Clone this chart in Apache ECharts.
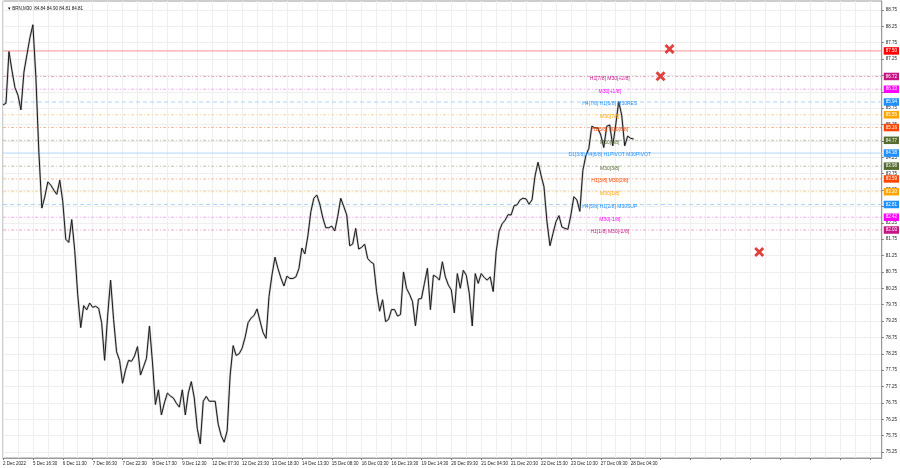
<!DOCTYPE html>
<html>
<head>
<meta charset="utf-8">
<script src="https://cdn.jsdelivr.net/npm/echarts@6/dist/echarts.min.js"></script>
<style>
html,body{margin:0;padding:0;background:#fff;}
#chart{width:900px;height:468px;}
</style>
</head>
<body>
<div id="chart"></div>
<script>
const titleText = '\u25BE BRN,M30  84.84 84.90 84.81 84.81';

// time labels (every 10th bar slot)
const dateLabels = ['2 Dec 2022','5 Dec 16:30','6 Dec 11:30','7 Dec 06:30','7 Dec 22:30','8 Dec 17:30','9 Dec 12:30','12 Dec 07:30','12 Dec 23:30','13 Dec 18:30','14 Dec 13:30','15 Dec 08:30','16 Dec 03:30','16 Dec 19:30','19 Dec 14:30','20 Dec 09:30','21 Dec 04:30','21 Dec 20:30','22 Dec 15:30','23 Dec 10:30','27 Dec 09:30','28 Dec 04:30'];

// price tick labels
const priceTicks = [75.25,75.75,76.25,76.75,77.25,77.75,78.25,78.75,79.25,79.75,80.25,80.75,81.25,81.75,82.25,82.75,83.25,83.75,84.25,84.75,85.25,85.75,86.25,86.75,87.25,87.75,88.25,88.75];

// close prices
const closes = [
85.85,85.90,87.48,86.90,86.38,86.15,85.70,86.85,87.38,87.90,
88.30,86.70,84.40,82.70,83.05,83.50,83.40,83.25,83.12,83.55,
82.90,81.75,81.65,82.35,81.40,80.05,79.05,79.72,79.59,79.80,
79.67,79.70,79.64,79.20,78.05,79.40,80.50,79.30,78.31,78.05,
77.35,77.75,78.05,78.02,78.18,78.47,77.60,77.85,78.11,79.10,
78.00,76.70,77.15,76.38,76.75,77.05,76.96,76.90,76.74,76.62,
77.15,76.38,77.05,77.40,76.90,75.97,75.50,76.80,76.95,76.80,
76.80,76.80,76.10,75.75,75.55,75.90,77.60,78.50,78.20,78.25,
78.42,78.75,79.20,79.34,79.42,79.62,79.25,78.90,78.72,80.00,
80.66,81.20,80.85,80.56,80.32,80.62,80.55,80.55,80.60,80.85,
81.48,81.30,81.85,82.59,83.00,83.10,82.82,82.40,82.10,82.10,
82.15,82.00,82.45,83.00,82.75,82.49,81.55,81.60,82.08,81.45,
81.50,81.60,81.16,81.06,81.00,80.15,79.55,79.90,79.23,79.30,
79.60,79.60,79.40,79.45,80.75,80.25,80.07,79.85,79.10,79.92,
79.94,80.40,80.86,79.60,80.65,80.60,80.50,81.06,80.60,80.35,
80.20,79.50,80.70,80.25,80.80,80.65,80.10,79.10,80.70,80.40,
80.70,80.58,80.50,80.60,80.15,81.37,82.00,82.22,82.33,82.50,
82.49,82.77,82.80,82.95,83.00,82.98,82.82,82.95,83.68,84.10,
83.71,83.35,82.28,81.55,81.92,82.28,82.47,82.12,82.08,82.05,
82.49,83.05,82.95,82.60,83.85,84.30,84.52,85.20,85.15,85.15,
84.93,84.55,85.20,85.24,84.60,85.24,85.95,85.54,84.60,84.90,
84.83,84.81];

// Murrey-style levels
const levelPrices = [87.50,86.72,86.33,85.94,85.55,85.16,84.77,84.38,83.98,83.59,83.20,82.81,82.42,82.03];
const levelTexts = ['','H1[7/8] M30[+2/8]','M30[+1/8]','H4[7/8] H1[6/8] M30RES','M30[7/8]','H1[5/8] M30[6/8]','M30[5/8]','D1[3/8] H4[6/8] H1PIVOT M30PIVOT','M30[3/8]','H1[3/8] M30[2/8]','M30[1/8]','H4[5/8] H1[2/8] M30SUP','M30[-1/8]','H1[1/8] M30[-2/8]'];
const levelColors = ['#FF0000','#C71585','#FF00FF','#1E90FF','#FFA500','#FF4500','#556B2F','#1E90FF','#556B2F','#FF4500','#FFA500','#1E90FF','#FF00FF','#C71585'];
const lineColors = ['#F49090','#E8A3CF','#F9A6F9','#A9D2FA','#FBD59A','#FBB49A','#B9C2AA','#AFD5FB','#B9C2AA','#FBB49A','#FBD59A','#A9D2FA','#F9A6F9','#E8A3CF'];
const levelStyles = ['solid','dashdot','dashdot','dashed','dashdot','dashdot','dashdot','solid','dashdot','dashdot','dashdot','dashed','dashdot','dashdot'];

// cross markers: slot index and price
const crossSlots = [223,220,253];
const crossPrices = [87.56,86.73,81.36];

const SLOTS = 295;
const LABEL_SLOT = 203;

const cats = Array.from({length: SLOTS}, (_, i) => String(i));

const dashMap = {solid:'solid', dashed:[4,3], dashdot:[3,2,1,2]};

// each level is a flat line across every slot
const levelSeries = levelPrices.map((p, i) => ({
  type: 'line', silent: true, z: 2, symbol: 'none',
  data: cats.map(() => p),
  lineStyle: {color: lineColors[i], type: dashMap[levelStyles[i]], width: 1}
}));

// price boxes at the right edge
const boxSeries = {
  type: 'scatter', silent: true, z: 8, symbolSize: 0,
  itemStyle: {opacity: 1},
  data: levelPrices.map((p, i) => ({
    value: [SLOTS - 1, p],
    label: {backgroundColor: levelColors[i], formatter: p.toFixed(2)}
  })),
  label: {
    show: true, position: 'right', distance: 2, color: '#fff', opacity: 1,
    fontSize: 4.5, fontFamily: 'Liberation Sans', padding: [1.5, 2, 1, 2]
  }
};

const levelLabelData = levelPrices.map((p, i) => ({
  value: [LABEL_SLOT, p],
  label: {color: levelColors[i], formatter: levelTexts[i]}
})).filter((d, i) => levelTexts[i] !== '');

const chart = echarts.init(document.getElementById('chart'), null, {renderer: 'canvas'});
chart.setOption({
  animation: false,
  backgroundColor: '#ffffff',
  title: {
    text: titleText,
    left: 3, top: 1,
    textStyle: {fontSize: 4.5, fontWeight: 'normal', color: '#111', fontFamily: 'Liberation Sans'}
  },
  grid: {left: 1, top: 1, right: 18, bottom: 10, show: true, borderColor: '#9a9a9a', borderWidth: 1, backgroundColor: '#fff'},
  xAxis: {
    type: 'category',
    data: cats,
    boundaryGap: false,
    axisLine: {show: true, onZero: false, lineStyle: {color: '#9a9a9a'}},
    axisTick: {show: true, interval: 9, length: 2, lineStyle: {color: '#777'}},
    axisLabel: {
      show: true, interval: 9, fontSize: 4.5, color: '#222', align: 'left', margin: 3,
      fontFamily: 'Liberation Sans',
      formatter: (v, idx) => dateLabels[idx / 10] || ''
    },
    splitLine: {show: true, interval: 4, lineStyle: {color: '#efefef', width: 1}}
  },
  yAxis: {
    type: 'value',
    position: 'right',
    min: 75.067,
    max: 89.025,
    axisLine: {show: true, lineStyle: {color: '#9a9a9a'}},
    axisTick: {show: true, customValues: priceTicks, length: 2, lineStyle: {color: '#777'}},
    axisLabel: {
      show: true, customValues: priceTicks, fontSize: 4.5, color: '#222', margin: 4,
      fontFamily: 'Liberation Sans',
      formatter: v => v.toFixed(2)
    },
    splitLine: {show: true, lineStyle: {color: '#efefef', width: 1}}
  },
  series: levelSeries.concat([
    {
      type: 'line', data: closes, symbol: 'none', silent: true,
      lineStyle: {color: '#a8a8a8', width: 2.2, opacity: 0.6},
      z: 3
    },
    {
      type: 'line', data: closes, symbol: 'none', silent: true,
      lineStyle: {color: '#1a1a1a', width: 1},
      z: 4
    },
    {
      type: 'scatter', data: levelLabelData, symbolSize: 0, silent: true, z: 6,
      itemStyle: {opacity: 1},
      label: {show: true, position: 'inside', offset: [0, 2], fontSize: 5, fontFamily: 'Liberation Sans', opacity: 1}
    },
    boxSeries,
    {
      type: 'scatter', silent: true, z: 7,
      data: crossSlots.map((s, i) => [s, crossPrices[i]]),
      symbol: 'path://M2,0 L5,3 L8,0 L10,2 L7,5 L10,8 L8,10 L5,7 L2,10 L0,8 L3,5 L0,2 Z',
      symbolSize: 10,
      itemStyle: {color: '#E0403C', opacity: 1}
    }
  ])
});
</script>
</body>
</html>
